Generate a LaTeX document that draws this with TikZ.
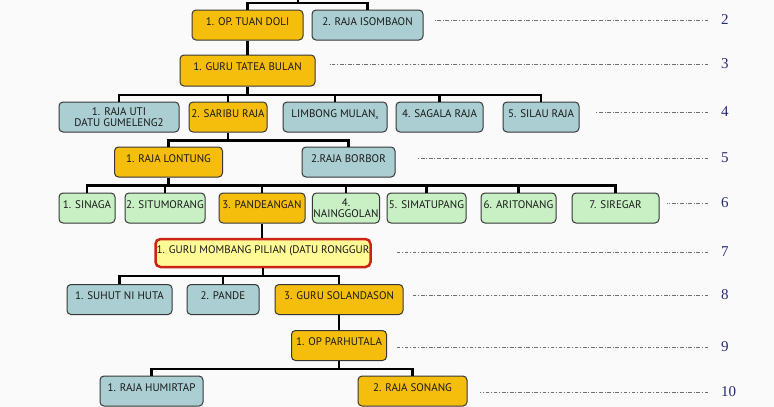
\documentclass[tikz,border=0pt]{standalone}
\usepackage{fontspec}
\setmainfont{PT Sans}
\newfontfamily\levelfont{Liberation Serif}

\definecolor{pagebg}{RGB}{250,250,250}
\definecolor{boxline}{RGB}{55,55,55}
\definecolor{boxtext}{RGB}{25,25,25}
\definecolor{goldfill}{RGB}{245,190,12}
\definecolor{palefill}{RGB}{170,206,210}
\definecolor{mintfill}{RGB}{200,240,196}
\definecolor{chosenfill}{RGB}{255,250,150}
\definecolor{chosenline}{RGB}{205,35,20}
\definecolor{levelnum}{RGB}{40,40,120}
\definecolor{levelline}{RGB}{110,110,110}

\begin{document}
\begin{tikzpicture}[x=1pt, y=-1pt,
    box/.style={draw=boxline, line width=1pt, rounded corners=4pt, minimum height=30pt, inner sep=1pt, text=boxtext, font=\fontsize{11}{11}\selectfont, text height=6.5pt, text depth=6.5pt},
    gold/.style={box, fill=goldfill},
    pale/.style={box, fill=palefill},
    mint/.style={box, fill=mintfill},
    chosen/.style={box, draw=chosenline, line width=2.5pt, rounded corners=5pt, minimum height=28pt, fill=chosenfill},
    tree/.style={line width=2.4pt},
    level/.style={draw=levelline, line width=0.6pt, dash pattern=on 3.5pt off 1.8pt on 1pt off 1.8pt},
    lvl/.style={anchor=west, inner xsep=13pt, inner ysep=1pt, text=levelnum, font=\levelfont\fontsize{15}{15}\selectfont}]
    \fill[pagebg] (0,0) rectangle (774,407);
    \useasboundingbox (0,0) rectangle (774,407);

    \node[gold, minimum width=111pt] (tuan) at (247.5,25) {1. OP. TUAN DOLI};
    \node[pale, minimum width=111pt] (isombaon) at (367.5,25) {2. RAJA ISOMBAON};
    \node[gold, minimum width=135pt, minimum height=31pt] (tatea) at (247.5,70.5) {1. GURU TATEA BULAN};

    \node[pale, minimum width=120pt, text height={}, text depth={}, align=center] (uti) at (119,117) {1. RAJA UTI\\DATU GUMELENG2};
    \node[gold, minimum width=78pt] (saribu) at (228,117) {2. SARIBU RAJA};
    \node[pale, minimum width=104pt] (limbong) at (335,117) {LIMBONG MULAN\raisebox{-2pt}{\fontsize{6}{6}\selectfont x}};
    \node[pale, minimum width=87pt] (sagala) at (439.5,117) {4. SAGALA RAJA};
    \node[pale, minimum width=76pt] (silau) at (541,117) {5. SILAU RAJA};

    \node[gold, minimum width=108pt] (lontung) at (168.5,162) {1. RAJA LONTUNG};
    \node[pale, minimum width=93pt] (borbor) at (348.5,162) {2.RAJA BORBOR};

    \node[mint, minimum width=56pt] (sinaga) at (87,208) {1. SINAGA};
    \node[mint, minimum width=80pt] (situmorang) at (165,208) {2. SITUMORANG};
    \node[gold, minimum width=86pt] (pandeangan) at (262,208) {3. PANDEANGAN};
    \node[mint, minimum width=66pt, text height={}, text depth={}, align=center] (nainggolan) at (346,208) {4.\\NAINGGOLAN};
    \node[mint, minimum width=79pt] (simatupang) at (426.5,208) {5. SIMATUPANG};
    \node[mint, minimum width=75pt] (aritonang) at (518.5,208) {6. ARITONANG};
    \node[mint, minimum width=87pt] (siregar) at (615.5,208) {7. SIREGAR};

    \node[chosen, minimum width=215pt] (mombang) at (263,253) {1. GURU MOMBANG PILIAN (DATU RONGGUR};

    \node[pale, minimum width=105pt] (suhut) at (119.5,299.5) {1. SUHUT NI HUTA};
    \node[pale, minimum width=72pt] (pande) at (223,299.5) {2. PANDE};
    \node[gold, minimum width=128pt] (solandason) at (339,299.5) {3. GURU SOLANDASON};
    \node[gold, minimum width=95pt] (parhutala) at (339,345.5) {1. OP PARHUTALA};

    \node[pale, minimum width=103pt] (humirtap) at (151.5,391) {1. RAJA HUMIRTAP};
    \node[gold, minimum width=109pt] (sonang) at (412.5,391) {2. RAJA SONANG};

    \coordinate (root) at (298,0);
    \draw[tree] (root) -- ++(0,3) coordinate (j2);
    \foreach \c in {tuan,isombaon} \draw[tree] (j2) -| (\c.north);
    \draw[tree] (tuan) -- (tatea);
    \draw[tree] (tatea.south) -- ++(0,8.5) coordinate (j4);
    \foreach \c in {uti,saribu,limbong,sagala,silau} \draw[tree] (j4) -| (\c.north);
    \draw[tree] (saribu.south) -- ++(0,8) coordinate (j5);
    \foreach \c in {lontung,borbor} \draw[tree] (j5) -| (\c.north);
    \draw[tree] (lontung.south) -- ++(0,8) coordinate (j6);
    \foreach \c in {sinaga,situmorang,pandeangan,nainggolan,simatupang,aritonang,siregar} \draw[tree] (j6) -| (\c.north);
    \draw[tree] (pandeangan.south) -- (pandeangan.south |- mombang.north);
    \draw[tree] (mombang.south) -- ++(0,8) coordinate (j8);
    \foreach \c in {suhut,pande,solandason} \draw[tree] (j8) -| (\c.north);
    \draw[tree] (solandason) -- (parhutala);
    \draw[tree] (parhutala.south) -- ++(0,8) coordinate (j10);
    \foreach \c in {humirtap,sonang} \draw[tree] (j10) -| (\c.north);

    \foreach \n/\y/\s in {2/20/435,3/64/330,4/112/595,5/158/418,6/203/667,7/252/395,8/295/412,9/347/395,10/392/480} {
        \node[lvl] (lv\n) at (708,\y) {\n};
        \draw[level] (lv\n.west) -- (lv\n.west -| \s,0);
    }
\end{tikzpicture}
\end{document}
